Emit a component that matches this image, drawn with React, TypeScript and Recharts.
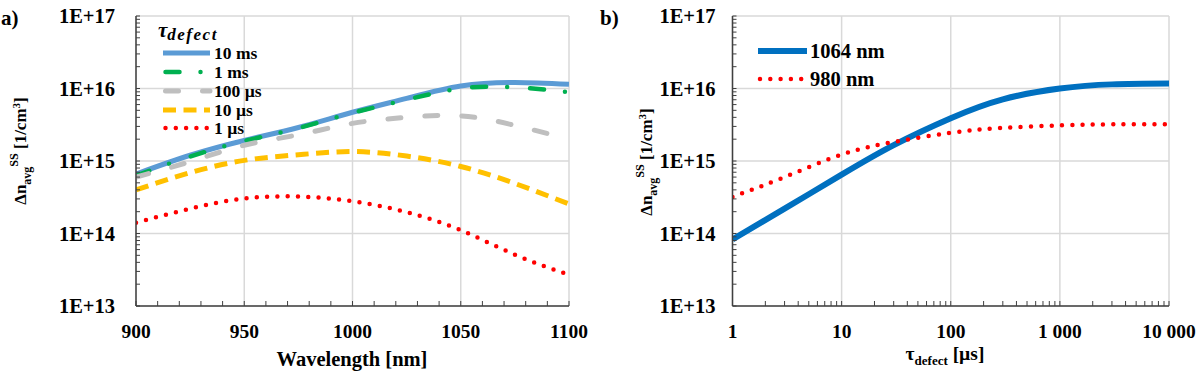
import { LineChart, Line, XAxis, YAxis, CartesianGrid } from "recharts";

// panel a: steady-state excess carrier density vs wavelength
const wavelengths = [900, 925, 950, 975, 1000, 1025, 1050, 1075, 1100];
const tau10ms = [6.6e14, 1.2e15, 1.92e15, 2.9e15, 4.7e15, 7.3e15, 1.08e16, 1.21e16, 1.14e16];
const tau1ms = [6.3e14, 1.15e15, 1.88e15, 2.85e15, 4.6e15, 7.0e15, 1.0e16, 1.04e16, 8.9e15];
const tau100us = [6.0e14, 9.8e14, 1.65e15, 2.3e15, 3.3e15, 4.0e15, 4.2e15, 3.1e15, 2.0e15];
const tau10us = [4.0e14, 6.9e14, 1.02e15, 1.22e15, 1.35e15, 1.17e15, 8.4e14, 4.9e14, 2.55e14];
const tau1us = [1.41e14, 2.2e14, 3.04e14, 3.23e14, 2.79e14, 1.97e14, 1.11e14, 5.1e13, 2.7e13];

// panel b: vs defect lifetime
const tauDefect = [1, 3, 10, 30, 100, 300, 1000, 3000, 10000];
const laser1064 = [8.3e13, 2.2e14, 6.5e14, 1.66e15, 3.9e15, 7.1e15, 1.0e16, 1.14e16, 1.17e16];
const laser980 = [3.2e14, 6.0e14, 1.23e15, 1.83e15, 2.45e15, 2.86e15, 3.1e15, 3.2e15, 3.2e15];

const wlMajor = [900, 950, 1000, 1050, 1100];
const yMajor = [1e13, 1e14, 1e15, 1e16, 1e17];
const tauMajor = [1, 10, 100, 1000, 10000];

const wlTicks: number[] = [];
for (let w = 900; w <= 1100; w += 10) wlTicks.push(w);
const logTicks = (majors: number[]) => {
  const out: number[] = [];
  majors.forEach((m, i) => {
    if (i === majors.length - 1) out.push(m);
    else for (let k = 1; k <= 9; k++) out.push(m * k);
  });
  return out;
};
const yTicks = logTicks(yMajor);
const tauTicks = logTicks(tauMajor);

const dataA = wavelengths.map((wl, i) => ({
  wl,
  ms10: tau10ms[i],
  ms1: tau1ms[i],
  us100: tau100us[i],
  us10: tau10us[i],
  us1: tau1us[i],
}));
const dataB = tauDefect.map((tau, i) => ({ tau, nm1064: laser1064[i], nm980: laser980[i] }));

const FONT = "Liberation Serif, Times New Roman, serif";
const AXIS = "#404040";
const GRID = "#d9d9d9";

const seriesA = [
  { key: "ms10", dataKey: "ms10", name: "10 ms", color: "#5b9bd5", width: 5, dash: undefined, cap: "butt" },
  { key: "ms1", dataKey: "ms1", name: "1 ms", color: "#00b050", width: 4.5, dash: "14 21 0 23", cap: "round" },
  { key: "us100", dataKey: "us100", name: "100 µs", color: "#bfbfbf", width: 5, dash: "13 24", cap: "round" },
  { key: "us10", dataKey: "us10", name: "10 µs", color: "#ffc000", width: 5, dash: "13 7.5", cap: "butt" },
  { key: "us1", dataKey: "us1", name: "1 µs", color: "#ff0000", width: 4.5, dash: "0 10.3", cap: "round" },
];
const seriesB = [
  { key: "nm1064", dataKey: "nm1064", name: "1064 nm", color: "#0070c0", width: 6, dash: undefined, cap: "butt" },
  { key: "nm980", dataKey: "nm980", name: "980 nm", color: "#ff0000", width: 4.5, dash: "0 10.3", cap: "round" },
];

const isDecade = (v: number) => Math.abs(Math.log10(v) - Math.round(Math.log10(v))) < 1e-9;
const fmtE = (v: number) => `1E+${Math.round(Math.log10(v))}`;
const fmtSpace = (v: number) => String(v).replace(/\B(?=(\d{3})+(?!\d))/g, " ");

function YTick(props: any) {
  const { x, y, payload, gap } = props;
  const v = payload.value;
  return (
    <g>
      <line x1={x} x2={x + 4} y1={y} y2={y} stroke={AXIS} strokeWidth={1} />
      {isDecade(v) && (
        <text x={x - gap} y={y} dy="0.36em" textAnchor="end" style={{ fontFamily: FONT }} fontWeight="bold" fontSize={20.5} fill="#000">
          {fmtE(v)}
        </text>
      )}
    </g>
  );
}

function XTick(props: any) {
  const { x, y, payload, isMajor, fmt } = props;
  const v = payload.value;
  return (
    <g>
      <line x1={x} x2={x} y1={y} y2={y - 5} stroke={AXIS} strokeWidth={1} />
      {isMajor(v) && (
        <text x={x} y={y + 32} textAnchor="middle" style={{ fontFamily: FONT }} fontWeight="bold" fontSize={19.5} fill="#000">
          {fmt(v)}
        </text>
      )}
    </g>
  );
}

const frameLine = { stroke: AXIS, strokeWidth: 1.5 };

function PanelA() {
  return (
    <LineChart width={600} height={371} data={dataA} margin={{ top: 16, right: 31, bottom: 0, left: 0 }}>
      <CartesianGrid stroke={GRID} strokeWidth={1.5} horizontalValues={yMajor} verticalValues={wlMajor} />
      <XAxis
        dataKey="wl"
        type="number"
        domain={[900, 1100]}
        allowDataOverflow
        ticks={wlTicks}
        interval={0}
        height={65}
        tickSize={0}
        tickMargin={0}
        tickLine={false}
        axisLine={frameLine}
        tick={<XTick isMajor={(v: number) => v % 50 === 0} fmt={(v: number) => String(v)} />}
      />
      <XAxis xAxisId="top" orientation="top" type="number" domain={[900, 1100]} height={0} tick={false} tickLine={false} axisLine={frameLine} />
      <YAxis
        scale="log"
        type="number"
        domain={[1e13, 1e17]}
        allowDataOverflow
        ticks={yTicks}
        interval={0}
        width={136}
        tickSize={0}
        tickMargin={0}
        tickLine={false}
        axisLine={frameLine}
        tick={<YTick gap={21} />}
      />
      <YAxis yAxisId="right" orientation="right" type="number" domain={[0, 1]} width={0} tick={false} tickLine={false} axisLine={frameLine} />
      {seriesA.map((s) => (
        <Line
          key={s.key}
          dataKey={s.dataKey}
          name={s.name}
          type="natural"
          stroke={s.color}
          strokeWidth={s.width}
          strokeDasharray={s.dash}
          strokeLinecap={s.cap as any}
          dot={false}
          activeDot={false}
          isAnimationActive={false}
        />
      ))}
    </LineChart>
  );
}

function PanelB() {
  return (
    <LineChart width={600} height={371} data={dataB} margin={{ top: 16, right: 31, bottom: 0, left: 0 }}>
      <CartesianGrid stroke={GRID} strokeWidth={1.5} horizontalValues={yMajor} verticalValues={tauMajor} />
      <XAxis
        dataKey="tau"
        type="number"
        scale="log"
        domain={[1, 10000]}
        allowDataOverflow
        ticks={tauTicks}
        interval={0}
        height={65}
        tickSize={0}
        tickMargin={0}
        tickLine={false}
        axisLine={frameLine}
        tick={<XTick isMajor={isDecade} fmt={fmtSpace} />}
      />
      <XAxis xAxisId="top" orientation="top" type="number" domain={[0, 1]} height={0} tick={false} tickLine={false} axisLine={frameLine} />
      <YAxis
        scale="log"
        type="number"
        domain={[1e13, 1e17]}
        allowDataOverflow
        ticks={yTicks}
        interval={0}
        width={132.5}
        tickSize={0}
        tickMargin={0}
        tickLine={false}
        axisLine={frameLine}
        tick={<YTick gap={17} />}
      />
      <YAxis yAxisId="right" orientation="right" type="number" domain={[0, 1]} width={0} tick={false} tickLine={false} axisLine={frameLine} />
      {seriesB.map((s) => (
        <Line
          key={s.key}
          dataKey={s.dataKey}
          name={s.name}
          type="natural"
          stroke={s.color}
          strokeWidth={s.width}
          strokeDasharray={s.dash}
          strokeLinecap={s.cap as any}
          dot={false}
          activeDot={false}
          isAnimationActive={false}
        />
      ))}
    </LineChart>
  );
}

// titles, panel letters and legends drawn on top
function Overlay() {
  const txt = { style: { fontFamily: FONT }, fontWeight: "bold" as const, fill: "#000" };
  const yTitle = (x: number, y: number) => (
    <text transform={`translate(${x},${y}) rotate(-90)`} textAnchor="middle" fontSize={17} {...txt}>
      Δn
      <tspan dy={5} fontSize={12}>avg</tspan>
      <tspan dy={-13} fontSize={12}>SS</tspan>
      <tspan dy={8} fontSize={17}> [1/cm</tspan>
      <tspan dy={-6} fontSize={11}>3</tspan>
      <tspan dy={6} fontSize={17}>]</tspan>
    </text>
  );
  const rowsA = [53, 72, 91, 110, 128];
  const rowsB = [51, 79];
  return (
    <svg width={1200} height={371} style={{ position: "absolute", left: 0, top: 0, pointerEvents: "none" }}>
      <text x={1} y={25} fontSize={21} {...txt}>a)</text>
      <text x={600} y={25} fontSize={21} {...txt}>b)</text>
      {yTitle(26, 151)}
      {yTitle(652, 162)}
      <text x={352} y={366} textAnchor="middle" fontSize={20.5} {...txt}>Wavelength [nm]</text>
      <text x={945} y={360} textAnchor="middle" fontSize={19.5} {...txt}>
        τ<tspan dy={5} fontSize={13}>defect</tspan>
        <tspan dy={-5}> [µs]</tspan>
      </text>

      <text x={158} y={37} fontSize={21} fontStyle="italic" {...txt}>
        τ<tspan dy={3} fontSize={17} letterSpacing={1.5}>defect</tspan>
      </text>
      {seriesA.map((s, i) => (
        <g key={s.key}>
          <line
            x1={s.cap === "round" ? 165.5 : 163}
            x2={210}
            y1={rowsA[i]}
            y2={rowsA[i]}
            stroke={s.color}
            strokeWidth={s.width}
            strokeDasharray={s.dash}
            strokeLinecap={s.cap as any}
          />
          <text x={214} y={rowsA[i]} dy="0.36em" fontSize={17.5} {...txt}>{s.name}</text>
        </g>
      ))}
      {seriesB.map((s, i) => (
        <g key={s.key}>
          <line
            x1={s.cap === "round" ? 760 : 758}
            x2={807}
            y1={rowsB[i]}
            y2={rowsB[i]}
            stroke={s.color}
            strokeWidth={s.width}
            strokeDasharray={s.dash}
            strokeLinecap={s.cap as any}
          />
          <text x={810} y={rowsB[i]} dy="0.36em" fontSize={20.5} {...txt}>{s.name}</text>
        </g>
      ))}
    </svg>
  );
}

export default function App() {
  return (
    <div style={{ position: "absolute", left: 0, top: 0, width: 1200, height: 371, background: "#fff" }}>
      <div style={{ position: "absolute", left: 0, top: 0 }}>
        <PanelA />
      </div>
      <div style={{ position: "absolute", left: 600, top: 0 }}>
        <PanelB />
      </div>
      <Overlay />
    </div>
  );
}
